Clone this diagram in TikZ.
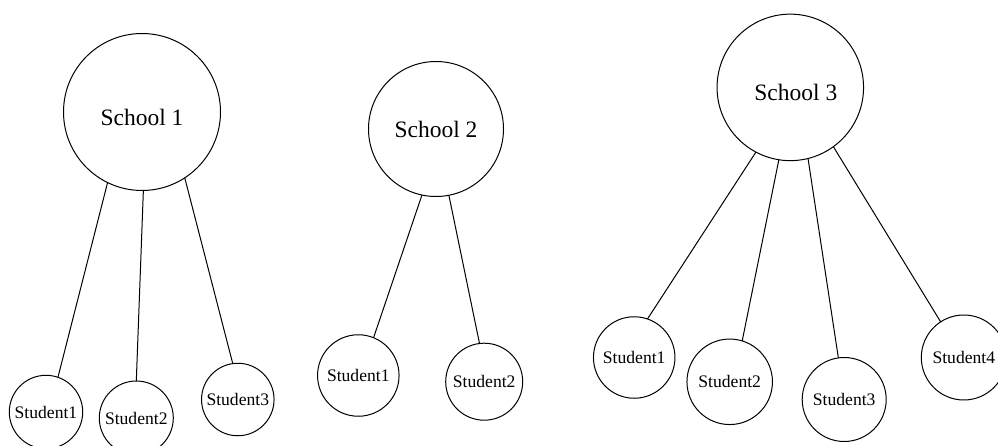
\documentclass[tikz,border=0pt]{standalone}
\usepackage{fontspec}
\setmainfont{Liberation Serif}
\begin{document}
\begin{tikzpicture}[x=1pt,y=-1pt,
  every node/.style={inner sep=0pt, outer sep=0pt},
  school/.style={circle, draw, line width=1pt},
  schooltext/.style={font=\fontsize{23.5}{27}\selectfont},
  student/.style={circle, draw, line width=1pt, font=\fontsize{17.6}{20}\selectfont},
  link/.style={line width=1pt}]
\useasboundingbox (0,0) rectangle (998,446);

% schools
\node[school, minimum size=157pt, label={[schooltext, yshift=-5pt]center:School 1}] (s1) at (142,112) {};
\node[school, minimum size=135pt, label={[schooltext]center:School 2}] (s2) at (436,129) {};
\node[school, minimum size=146.5pt, label={[schooltext, xshift=5.5pt, yshift=-5.4pt]center:School 3}] (s3) at (790.3,87.4) {};

% students of school 1
\node[student, minimum size=73.4pt] (a1) at (46,412) {Student1};
\node[student, minimum size=74pt] (a2) at (136.3,418) {Student2};
\node[student, minimum size=72.5pt] (a3) at (237.8,399.5) {Student3};

% students of school 2
\node[student, minimum size=81.5pt] (b1) at (358.3,375.5) {Student1};
\node[student, minimum size=77pt] (b2) at (484.2,381.7) {Student2};

% students of school 3
\node[student, minimum size=81.5pt] (c1) at (634.2,357.5) {Student1};
\node[student, minimum size=85.5pt] (c2) at (729.7,381.8) {Student2};
\node[student, minimum size=84pt] (c3) at (844.2,399.5) {Student3};
\node[student, minimum size=85pt] (c4) at (963.8,357.5) {Student4};

% connectors
\draw[link] (s1.-116.3) -- (a1.71.1);
\draw[link] (s1.-89.5) -- (a2.90.5);
\draw[link] (s1.-57) -- (a3.98.8);

\draw[link] (s2.-102.8) -- (b1.68.8);
\draw[link] (s2.-79.4) -- (b2.97.9);

\draw[link] (s3.-118.6) -- (c1.71.2);
\draw[link] (s3.-99.6) -- (c2.73);
\draw[link] (s3.-76.1) -- (c3.98.1);
\draw[link] (s3.-54.8) -- (c4.123.1);
\end{tikzpicture}
\end{document}
